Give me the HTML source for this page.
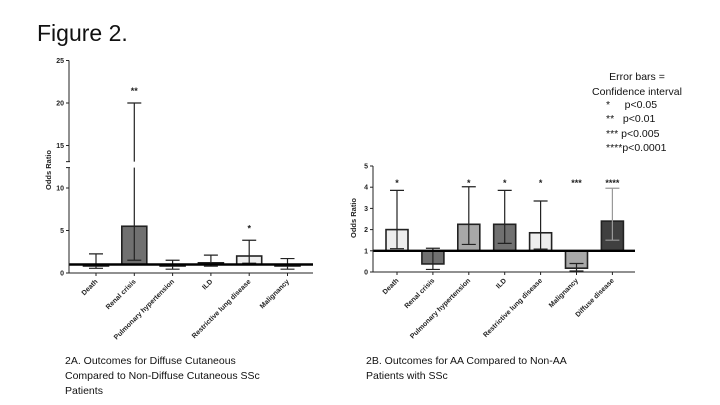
<!DOCTYPE html>
<html><head><meta charset="utf-8"><style>
html,body{margin:0;padding:0;background:#fff;width:720px;height:405px;overflow:hidden;font-family:"Liberation Sans",sans-serif}
svg{position:absolute;left:0;top:0}
.cap{position:absolute;font-family:"Liberation Sans",sans-serif;font-size:10.5px;line-height:15px;color:#111;white-space:nowrap}
</style></head><body>
<div class="cap" style="left:37px;top:19px;font-size:23px;line-height:28px">Figure 2.</div>
<div class="cap" style="left:65px;top:354px">2A. Outcomes for Diffuse Cutaneous<br>Compared to Non-Diffuse Cutaneous SSc<br>Patients</div>
<div class="cap" style="left:366px;top:354px">2B. Outcomes for AA Compared to Non-AA<br>Patients with SSc</div>
<div class="cap" style="left:572px;top:70px;text-align:center;width:130px">Error bars =</div>
<div class="cap" style="left:572px;top:85px;text-align:center;width:130px">Confidence interval</div>
<div class="cap" style="left:606px;top:98px;line-height:14.3px;white-space:pre">*     p&lt;0.05
**   p&lt;0.01
*** p&lt;0.005
****p&lt;0.0001</div>
<svg id="chart" width="720" height="405"></svg>
<script>
const catsA=["Death","Renal crisis","Pulmonary hypertension","ILD","Restrictive lung disease","Malignancy"];
const valsA=[0.95,5.5,0.9,1.2,2.0,0.9];
const lowA=[0.55,1.5,0.45,0.8,1.15,0.45];
const highA=[2.25,20,1.5,2.1,3.85,1.7];
const sigA=["","**","","","*",""];
const fillA=["#eeeeee","#707070","#e0e0e0","#707070","#eeeeee","#e0e0e0"];
const ticksA=[0,5,10,15,20,25];
const catsB=["Death","Renal crisis","Pulmonary hypertension","ILD","Restrictive lung disease","Malignancy","Diffuse disease"];
const valsB=[2.0,0.38,2.25,2.25,1.85,0.18,2.4];
const lowB=[1.1,0.12,1.3,1.35,1.08,0.05,1.5];
const highB=[3.85,1.12,4.02,3.85,3.35,0.4,3.95];
const sigB=["*","","*","*","*","***","****"];
const fillB=["#eeeeee","#707070","#a8a8a8","#707070","#eeeeee","#a8a8a8","#404040"];
const ticksB=[0,1,2,3,4,5];
const NS="http://www.w3.org/2000/svg";
const svg=document.getElementById('chart');
function mk(t,a,p){const e=document.createElementNS(NS,t);for(const k in a)e.setAttribute(k,a[k]);(p||svg).appendChild(e);return e;}
function draw(cfg){
  const {cats,vals,low,high,sig,fill,ticks,x0,x1,y0,ppu,x_first,step,bw,id}=cfg;
  const g=mk('g',{});
  
  
  const Y=v=>y0-v*ppu, X=i=>x_first+i*step;
  cats.forEach((c,i)=>{
    const cx=X(i),yv=Y(vals[i]),y1=Y(1);
    const bar=mk('rect',{x:cx-bw/2,y:Math.min(yv,y1),width:bw,height:Math.max(Math.abs(y1-yv),1.5),fill:fill[i],stroke:'#222','stroke-width':1.6},g);
    
    
    const col=fill[i]==='#404040'?'#999':'#222';
    const eb=mk('path',{d:`M${cx},${Y(low[i])}V${Y(high[i])}M${cx-7},${Y(low[i])}H${cx+7}M${cx-7},${Y(high[i])}H${cx+7}`,stroke:col,'stroke-width':1.2,fill:'none'},g);
    
    
    if(sig[i]){const sy=cfg.starY!==undefined?cfg.starY:Y(high[i])-9;
      const s=mk('text',{x:cx,y:sy,'text-anchor':'middle','font-size':9,'font-weight':'bold',fill:'#222'},g);s.textContent=sig[i];
      
      }
    mk('line',{x1:cx,x2:cx,y1:y0,y2:y0+3,stroke:'#222','stroke-width':1},g);
    const l=mk('text',{x:cx+2,y:y0+9,'text-anchor':'end','font-size':7,'font-weight':'bold',fill:'#222',transform:`rotate(-45 ${cx+2} ${y0+9})`},g);
    l.textContent=c;
    
    
  });
  mk('line',{x1:x0,x2:x1,y1:y0,y2:y0,stroke:'#222','stroke-width':1},g);
  const ref=mk('line',{x1:x0,x2:x1,y1:Y(1),y2:Y(1),stroke:'#000','stroke-width':2.4},g);
  
  
  mk('line',{x1:x0,x2:x0,y1:y0,y2:Y(ticks[ticks.length-1]),stroke:'#222','stroke-width':1},g);
  ticks.forEach(t=>{mk('line',{x1:x0-3,x2:x0,y1:Y(t),y2:Y(t),stroke:'#222','stroke-width':1},g);
    const tt=mk('text',{x:x0-5,y:Y(t)+2.5,'text-anchor':'end','font-size':7,'font-weight':'bold',fill:'#222'},g);tt.textContent=t;
    
    });
  if(cfg.gap){mk('rect',{x:x0-5,y:Y(cfg.gap[1]),width:4+(x_first-x0)+step*1.2,height:Y(cfg.gap[0])-Y(cfg.gap[1]),fill:'#fff'},g);
    mk('line',{x1:x0-3,x2:x0+1,y1:Y(cfg.gap[1]),y2:Y(cfg.gap[1]),stroke:'#222'},g);
    mk('line',{x1:x0-3,x2:x0+1,y1:Y(cfg.gap[0]),y2:Y(cfg.gap[0]),stroke:'#222'},g);}
  const yt=mk('text',{x:cfg.ytx,y:cfg.yty,'text-anchor':'middle','font-size':7.5,'font-weight':'bold',fill:'#222',transform:`rotate(-90 ${cfg.ytx} ${cfg.yty})`},g);
  yt.textContent='Odds  Ratio';
  
  
}
draw({cats:catsA,vals:valsA,low:lowA,high:highA,sig:sigA,fill:fillA,ticks:ticksA,x0:69,x1:313,y0:273,ppu:8.5,x_first:96,step:38.3,bw:25,id:'a',gap:[12.4,13.1],ytx:51,yty:170});
draw({cats:catsB,vals:valsB,low:lowB,high:highB,sig:sigB,fill:fillB,ticks:ticksB,x0:373,x1:635,y0:272,ppu:21.2,x_first:397,step:35.9,bw:22,id:'b',starY:186,ytx:356,yty:218});
</script>
</body></html>
